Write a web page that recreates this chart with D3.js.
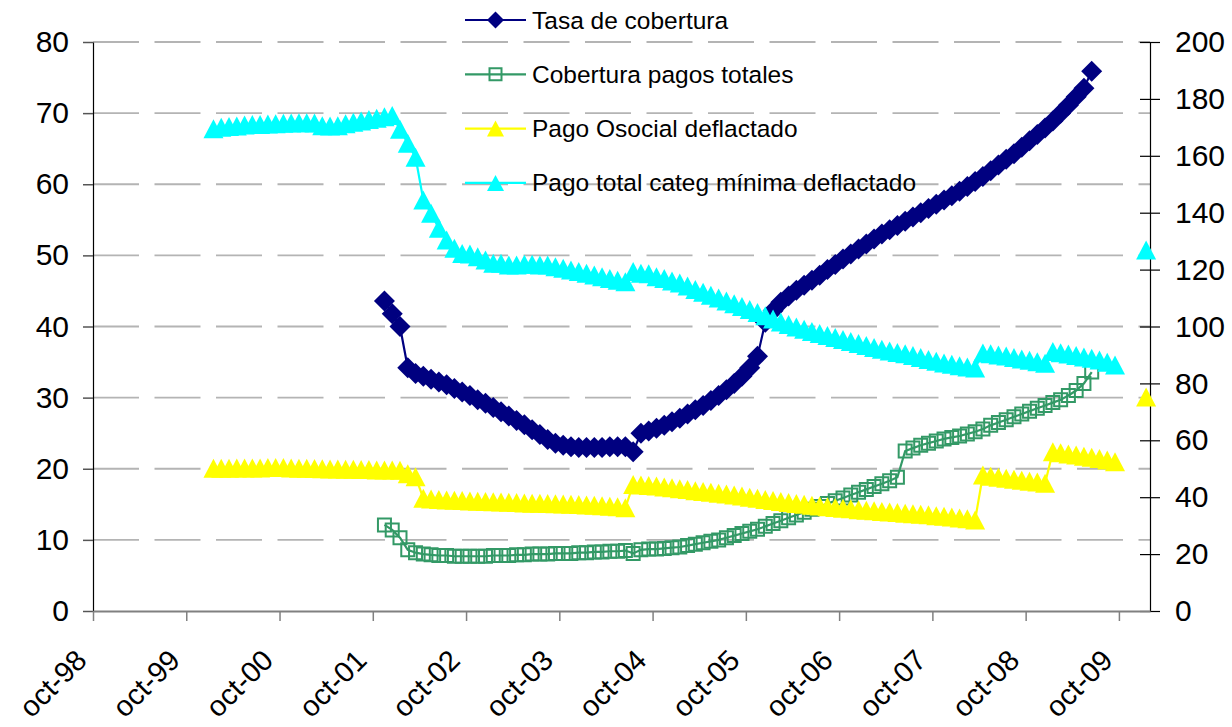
<!DOCTYPE html>
<html>
<head>
<meta charset="utf-8">
<script src="https://cdn.jsdelivr.net/npm/d3@7"></script>
<style>
  html, body { margin: 0; padding: 0; background: #fff; }
  svg { display: block; font-family: "Liberation Sans", Arial, sans-serif; }
</style>
</head>
<body>
<svg id="chart" width="1232" height="727"></svg>
<script>
// ---------------- DATA ----------------
const monthNames = ["ene","feb","mar","abr","may","jun","jul","ago","sep","oct","nov","dic"];
// monthly categories oct-98 .. ene-10
const categories = [];
for (let i = 0; i < 136; i++) {
  const mi = (9 + i) % 12;
  const yr = (1998 + Math.floor((9 + i) / 12)) % 100;
  categories.push(monthNames[mi] + "-" + String(yr).padStart(2, "0"));
}
const tickLabels = ["oct-98","oct-99","oct-00","oct-01","oct-02","oct-03","oct-04","oct-05","oct-06","oct-07","oct-08","oct-09"];
const leftTicks = [0,10,20,30,40,50,60,70,80];
const rightTicks = [0,20,40,60,80,100,120,140,160,180,200];

const seriesNames = ["Tasa de cobertura","Cobertura pagos totales","Pago Osocial deflactado","Pago total categ mínima deflactado"];

// Tasa de cobertura (%), left axis, from nov-01
const tasaStart = "nov-01";
const tasa = [43.6,41.8,40.0,34.2,33.4,33.0,32.6,32.2,31.8,31.3,30.8,30.3,29.7,29.2,28.6,28.0,27.4,26.8,26.2,25.5,
  24.8,24.1,23.6,23.3,23.1,23.0,23.0,23.0,23.0,23.1,23.1,23.1,22.4,25.0,25.3,25.7,26.1,26.6,27.1,27.7,
  28.3,28.9,29.6,30.3,31.1,32.0,33.0,34.2,35.8,40.6,42.2,43.4,44.3,45.1,45.8,46.5,47.2,48.0,48.7,49.5,
  50.2,50.9,51.6,52.3,53.0,53.6,54.2,54.8,55.4,56.0,56.6,57.2,57.8,58.4,59.0,59.7,60.4,61.1,61.9,62.7,
  63.5,64.3,65.2,66.1,67.0,67.9,68.9,70.0,71.1,72.3,73.5,75.9];

// Cobertura pagos totales (%), left axis, from nov-01
const coberturaStart = "nov-01";
const cobertura = [12.1,11.4,10.3,8.6,8.2,8.0,7.9,7.8,7.8,7.7,7.7,7.7,7.7,7.7,7.8,7.8,7.8,7.9,7.9,8.0,
  8.0,8.0,8.1,8.1,8.1,8.2,8.2,8.3,8.3,8.4,8.4,8.5,8.1,8.6,8.7,8.7,8.8,8.9,9.0,9.2,
  9.4,9.6,9.8,10.0,10.3,10.6,10.9,11.2,11.5,11.9,12.3,12.7,13.1,13.5,13.9,14.3,14.7,15.1,15.5,15.9,
  16.3,16.7,17.1,17.5,17.9,18.3,18.8,22.5,22.9,23.3,23.6,23.9,24.2,24.4,24.6,24.9,25.2,25.6,26.1,26.5,
  26.9,27.3,27.7,28.1,28.5,28.9,29.3,29.7,30.3,31.0,32.0,33.6];

// Pago Osocial deflactado, right axis, from ene-00
const osocialStart = "ene-00";
const osocial = [50.2,50.2,50.2,50.3,50.3,50.3,50.3,50.4,50.4,50.4,50.3,50.2,50.2,50.1,50.0,49.9,49.9,49.8,49.8,49.7,
  49.7,49.6,49.6,49.6,49.5,48.2,47.2,
  39.6,39.4,39.2,39.0,38.9,38.8,38.7,38.6,38.5,38.4,38.3,38.2,38.1,38.0,37.9,37.9,37.8,37.7,37.6,37.5,
  37.4,37.3,37.2,37.0,36.8,36.6,36.3,
  44.5,44.3,44.1,43.9,43.6,43.3,43.0,42.7,42.3,42.0,41.7,41.4,41.1,40.8,40.4,40.0,39.6,39.2,38.8,38.5,
  38.1,37.8,37.5,37.2,36.9,36.6,36.4,36.1,35.9,35.6,35.4,35.2,35.0,34.8,34.6,34.4,34.2,34.0,33.8,33.5,
  33.3,33.0,32.7,32.4,32.0,
  47.8,47.4,47.0,46.7,46.3,46.0,45.6,45.3,44.9,
  56.0,55.6,55.2,54.8,54.4,54.0,53.6,53.1,52.5,
  null,null,null,75.2];

// Pago total categ mínima deflactado, right axis, from ene-00
const pagoTotalStart = "ene-00";
const pagoTotal = [169.5,170.0,170.3,170.5,170.8,171.0,171.0,171.2,171.3,171.4,171.5,171.6,171.6,171.5,170.6,170.5,170.6,171.3,171.8,172.2,
  172.8,173.2,173.7,174.2,
  169.3,164.4,159.5,144.5,139.8,134.5,130.4,127.5,125.7,
  125.5,124.5,123.4,122.2,122.2,121.6,121.6,121.9,121.9,121.6,121.6,121.0,120.5,119.9,119.3,118.7,118.1,117.5,116.9,116.3,115.7,
  119.3,118.7,118.5,117.5,116.9,116.0,115.3,114.2,113.0,112.0,
  111.0,110.0,109.0,108.0,107.0,106.0,104.9,103.8,102.6,101.6,100.7,99.8,99.0,98.2,97.5,96.8,96.1,95.4,94.7,94.0,
  93.3,92.6,92.0,91.4,90.9,90.4,89.8,89.1,88.4,87.8,87.2,86.7,86.2,85.8,85.4,
  90.7,90.4,90.0,89.6,89.1,88.6,88.1,87.6,87.1,
  91.2,90.8,90.3,89.8,89.3,88.8,88.2,87.4,86.5,
  null,null,null,126.9];

// ---------------- CHART ----------------
const svg = d3.select("#chart");
const L = 93, R = 1150, T = 42, B = 611;

const x = d3.scaleLinear().domain([0, categories.length]).range([L, R]);
const yL = d3.scaleLinear().domain([0, 80]).range([B, T]);
const yR = d3.scaleLinear().domain([0, 200]).range([B, T]);
const cx = i => x(i + 0.5);

function toPoints(values, start) {
  const s = categories.indexOf(start);
  return values.map((v, k) => ({ i: s + k, v }));
}

// gridlines
svg.append("g").selectAll("line").data(leftTicks.filter(d => d > 0)).join("line")
  .attr("x1", L).attr("x2", R)
  .attr("y1", d => yL(d)).attr("y2", d => yL(d))
  .attr("stroke", "#b4b4b4").attr("stroke-width", 1.8)
  .attr("stroke-dasharray", "46 15.5");

// left axis
const gL = svg.append("g").attr("transform", `translate(${L},0)`)
  .call(d3.axisLeft(yL).tickValues(leftTicks).tickSize(10).tickSizeOuter(0).tickPadding(14));
gL.select(".domain").attr("stroke", "#000").attr("stroke-width", 1.2);
gL.selectAll(".tick line").attr("stroke", "#555").attr("stroke-width", 1.5);
gL.selectAll(".tick text").attr("font-size", 30).attr("fill", "#000")
  .attr("font-family", "'Liberation Sans', Arial, sans-serif");

// right axis
const gR = svg.append("g").attr("transform", `translate(${R},0)`)
  .call(d3.axisRight(yR).tickValues(rightTicks).tickSize(10).tickSizeOuter(0).tickPadding(15));
gR.select(".domain").attr("stroke", "#000").attr("stroke-width", 1.2);
gR.selectAll(".tick line").attr("x1", -10).attr("x2", 10).attr("stroke", "#000").attr("stroke-width", 1.2);
gR.selectAll(".tick text").attr("font-size", 30).attr("fill", "#000")
  .attr("font-family", "'Liberation Sans', Arial, sans-serif");

// bottom axis
const tickIdx = tickLabels.map(t => categories.indexOf(t));
const gB = svg.append("g").attr("transform", `translate(0,${B})`)
  .call(d3.axisBottom(x).tickValues(tickIdx).tickSize(10).tickSizeOuter(0)
    .tickFormat(i => categories[i]));
gB.select(".domain").attr("stroke", "#808080").attr("stroke-width", 2);
gB.selectAll(".tick line").attr("stroke", "#808080").attr("stroke-width", 1.5);
gB.selectAll(".tick text")
  .attr("font-size", 29).attr("fill", "#000")
  .attr("font-family", "'Liberation Sans', Arial, sans-serif")
  .attr("text-anchor", "end")
  .attr("dy", null).attr("y", null)
  .attr("transform", "translate(-5,51) rotate(-45)");

// marker shapes
const diamond = s => `M0,${-s}L${s},0L0,${s}L${-s},0Z`;
const square = s => `M${-s},${-s}H${s}V${s}H${-s}Z`;
const triangle = (w, h) => `M0,${-h/2}L${w/2},${h/2}L${-w/2},${h/2}Z`;

const series = [
  { name: seriesNames[0], pts: toPoints(tasa, tasaStart), y: yL, color: "#000080",
    marker: diamond(10.5), fill: "#000080", stroke: "none", lmarker: diamond(8.5), lfill: "#000080", lstroke: "none" },
  { name: seriesNames[1], pts: toPoints(cobertura, coberturaStart), y: yL, color: "#339966",
    marker: square(6.5), fill: "none", stroke: "#339966", lmarker: square(6), lfill: "none", lstroke: "#339966" },
  { name: seriesNames[2], pts: toPoints(osocial, osocialStart), y: yR, color: "#FFFF00",
    marker: triangle(20, 19), fill: "#FFFF00", stroke: "none", lmarker: triangle(17, 16), lfill: "#FFFF00", lstroke: "none" },
  { name: seriesNames[3], pts: toPoints(pagoTotal, pagoTotalStart), y: yR, color: "#00FFFF",
    marker: triangle(20, 19), fill: "#00FFFF", stroke: "none", lmarker: triangle(17, 16), lfill: "#00FFFF", lstroke: "none" }
];

series.forEach(s => {
  const g = svg.append("g");
  const line = d3.line().defined(d => d.v != null).x(d => cx(d.i)).y(d => s.y(d.v));
  g.append("path").datum(s.pts).attr("d", line)
    .attr("fill", "none").attr("stroke", s.color).attr("stroke-width", 2.2);
  g.selectAll("path.m").data(s.pts.filter(d => d.v != null)).join("path")
    .attr("class", "m")
    .attr("d", s.marker)
    .attr("transform", d => `translate(${cx(d.i)},${s.y(d.v)})`)
    .attr("fill", s.fill).attr("stroke", s.stroke).attr("stroke-width", 2);
});

// legend
const lg = svg.append("g");
series.forEach((s, k) => {
  const yy = 20 + k * 54.3;
  lg.append("line").attr("x1", 465).attr("x2", 526).attr("y1", yy).attr("y2", yy)
    .attr("stroke", s.color).attr("stroke-width", 2.2);
  lg.append("path").attr("d", s.lmarker).attr("transform", `translate(495.5,${yy})`)
    .attr("fill", s.lfill).attr("stroke", s.lstroke).attr("stroke-width", 2);
  lg.append("text").attr("x", 532).attr("y", yy).attr("dy", "0.35em")
    .attr("font-size", 24.5).attr("fill", "#000").text(s.name);
});
</script>
</body>
</html>
